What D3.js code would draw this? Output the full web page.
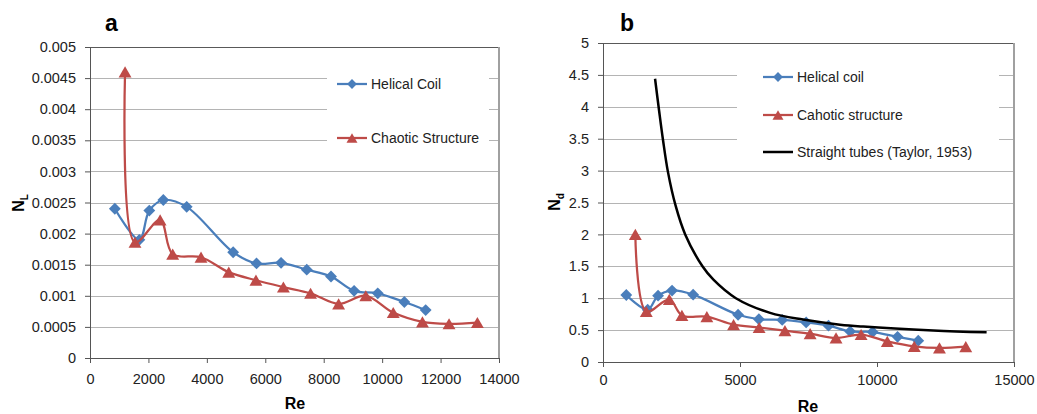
<!DOCTYPE html>
<html>
<head>
<meta charset="utf-8">
<script src="https://cdn.jsdelivr.net/npm/d3@7"></script>
<style>
  body { margin: 0; background: #fff; }
  svg { display: block; font-family: "Liberation Sans", Arial, sans-serif; }
  .tick text { font-size: 14.5px; fill: #222; }
</style>
</head>
<body>
<svg id="chart" width="1037" height="414"></svg>
<script>
// panel a : N_L vs Re
var aReHelical = [850, 1690, 2030, 2510, 3310, 4900, 5700, 6540, 7420, 8250, 9040, 9850, 10760, 11490];
var aNlHelical = [0.0024, 0.0019, 0.00237, 0.00254, 0.00243, 0.0017, 0.00152, 0.00153, 0.00142, 0.00131, 0.00108, 0.00104, 0.0009, 0.00077];
var aReChaotic = [1200, 1540, 2400, 2830, 3800, 4750, 5680, 6620, 7550, 8510, 9440, 10380, 11380, 12290, 13260];
var aNlChaotic = [0.0046, 0.00186, 0.00222, 0.00167, 0.00162, 0.00138, 0.00125, 0.00114, 0.00104, 0.00087, 0.001, 0.00073, 0.00058, 0.00055, 0.00057];
var aXTicks = [0, 2000, 4000, 6000, 8000, 10000, 12000, 14000];
var aYTicks = [0, 0.0005, 0.001, 0.0015, 0.002, 0.0025, 0.003, 0.0035, 0.004, 0.0045, 0.005];
var aYLabels = ["0", "0.0005", "0.001", "0.0015", "0.002", "0.0025", "0.003", "0.0035", "0.004", "0.0045", "0.005"];
var aLegend = ["Helical Coil", "Chaotic Structure"];

// panel b : N_d vs Re
var bReHelical = [850, 1630, 2010, 2520, 3290, 4930, 5690, 6540, 7415, 8230, 9020, 9840, 10750, 11506];
var bNdHelical = [1.05, 0.82, 1.04, 1.12, 1.055, 0.74, 0.67, 0.66, 0.62, 0.57, 0.48, 0.47, 0.395, 0.335];
var bReChaotic = [1180, 1580, 2420, 2880, 3790, 4765, 5698, 6640, 7560, 8505, 9420, 10376, 11360, 12280, 13240];
var bNdChaotic = [2.0, 0.79, 0.98, 0.73, 0.71, 0.585, 0.54, 0.49, 0.443, 0.376, 0.43, 0.323, 0.245, 0.22, 0.24];
var bReTaylor = [1900, 2050, 2190, 2370, 2650, 3000, 3630, 4030, 4850, 6100, 7300, 8650, 9500, 12050, 14000];
var bNdTaylor = [4.44, 3.93, 3.48, 2.98, 2.45, 2.0, 1.5, 1.29, 1.0, 0.77, 0.665, 0.585, 0.555, 0.495, 0.465];
var bXTicks = [0, 5000, 10000, 15000];
var bYTicks = [0, 0.5, 1, 1.5, 2, 2.5, 3, 3.5, 4, 4.5, 5];
var bYLabels = ["0", "0.5", "1", "1.5", "2", "2.5", "3", "3.5", "4", "4.5", "5"];
var bLegend = ["Helical coil", "Cahotic structure", "Straight tubes (Taylor, 1953)"];

var blue = "#4a7ebb", red = "#be4b48", black = "#000";
var svg = d3.select("#chart");

var diamond = d3.symbol().type(d3.symbolSquare).size(70);
var diamondSmall = d3.symbol().type(d3.symbolSquare).size(48);
var tri = d3.symbol().type(d3.symbolTriangle).size(72);
var triSmall = d3.symbol().type(d3.symbolTriangle).size(52);

var zip = function(xs, ys) { return xs.map(function(x, i) { return [x, ys[i]]; }); };

var drawPanel = function(p) {
    var x = d3.scaleLinear().domain(p.xDomain).range(p.xRange);
    var y = d3.scaleLinear().domain(p.yDomain).range(p.yRange);
    var g = svg.append("g");

    // gridlines
    g.selectAll(".grid")
        .data(p.yTicks.filter(function(d) { return d > 0 && d < p.yDomain[1]; }))
        .enter().append("line")
        .attr("x1", p.xRange[0]).attr("x2", p.xRange[1])
        .attr("y1", function(d) { return Math.round(y(d)) + 0.5; })
        .attr("y2", function(d) { return Math.round(y(d)) + 0.5; })
        .attr("stroke", "#b4b4b4").attr("stroke-width", 1);

    // legend box hides the gridlines behind it
    g.append("rect")
        .attr("x", p.legendBox[0]).attr("y", p.legendBox[1])
        .attr("width", p.legendBox[2]).attr("height", p.legendBox[3])
        .attr("fill", "#fff");

    // top + right border of plot area
    g.append("line")
        .attr("x1", p.xRange[0]).attr("x2", p.xRange[1])
        .attr("y1", Math.round(p.yRange[1]) + 0.5).attr("y2", Math.round(p.yRange[1]) + 0.5)
        .attr("stroke", "#595959");
    g.append("line")
        .attr("x1", p.xRange[1]).attr("x2", p.xRange[1])
        .attr("y1", p.yRange[1]).attr("y2", p.yRange[0])
        .attr("stroke", "#a0a0a0").attr("stroke-width", 2);

    var line = d3.line()
        .x(function(d) { return x(d[0]); })
        .y(function(d) { return y(d[1]); })
        .curve(d3.curveCatmullRom.alpha(0.5));

    p.series.forEach(function(s) {
        var pts = zip(s.xs, s.ys);
        g.append("path")
            .attr("d", line(pts))
            .attr("fill", "none")
            .attr("stroke", s.color)
            .attr("stroke-width", s.marker ? 2.25 : 2.5);
        if (s.marker === "diamond") {
            g.selectAll(null).data(pts).enter().append("path")
                .attr("d", diamond)
                .attr("transform", function(d) { return "translate(" + x(d[0]) + "," + y(d[1]) + ") rotate(45)"; })
                .attr("fill", s.color);
        } else if (s.marker === "triangle") {
            g.selectAll(null).data(pts).enter().append("path")
                .attr("d", tri)
                .attr("transform", function(d) { return "translate(" + x(d[0]) + "," + (y(d[1]) + 1.8) + ")"; })
                .attr("fill", s.color);
        }
    });

    // axes
    var yAxis = g.append("g")
        .attr("transform", "translate(" + p.xRange[0] + ",0)")
        .call(d3.axisLeft(y).tickValues(p.yTicks).tickSize(5).tickSizeOuter(0).tickPadding(9)
            .tickFormat(function(d, i) { return p.yLabels[i]; }));
    var xAxis = g.append("g")
        .attr("transform", "translate(0," + p.yRange[0] + ")")
        .call(d3.axisBottom(x).tickValues(p.xTicks).tickSize(5).tickSizeOuter(0).tickPadding(p.xPad)
            .tickFormat(function(d) { return d; }));
    [xAxis, yAxis].forEach(function(a) {
        a.select(".domain").attr("stroke", "#555");
        a.selectAll(".tick line").attr("stroke", "#555");
        a.selectAll(".tick text").style("font-family", "Liberation Sans, Arial, sans-serif");
    });

    // legend
    p.series.forEach(function(s, i) {
        var ly = p.legendRows[i];
        g.append("line")
            .attr("x1", p.legendX).attr("x2", p.legendX + 30)
            .attr("y1", ly).attr("y2", ly)
            .attr("stroke", s.color).attr("stroke-width", s.marker ? 2.25 : 2.5);
        if (s.marker === "diamond") {
            g.append("path").attr("d", diamondSmall)
                .attr("transform", "translate(" + (p.legendX + 15) + "," + ly + ") rotate(45)")
                .attr("fill", s.color);
        } else if (s.marker === "triangle") {
            g.append("path").attr("d", triSmall)
                .attr("transform", "translate(" + (p.legendX + 15) + "," + (ly + 1.5) + ")")
                .attr("fill", s.color);
        }
        g.append("text")
            .attr("x", p.legendX + 34).attr("y", ly + 5)
            .attr("font-size", 14).attr("fill", "#222")
            .text(p.legend[i]);
    });

    // titles
    g.append("text")
        .attr("x", p.letterX).attr("y", 31)
        .attr("font-size", 23).attr("font-weight", "bold")
        .text(p.letter);
    g.append("text")
        .attr("x", p.reX).attr("y", p.reY)
        .attr("text-anchor", "middle")
        .attr("font-size", 16).attr("font-weight", "bold")
        .text("Re");
    var yt = g.append("text")
        .attr("transform", "translate(" + p.yTitle[0] + "," + p.yTitle[1] + ") rotate(-90)")
        .attr("text-anchor", "middle")
        .attr("font-size", 16).attr("font-weight", "bold");
    yt.append("tspan").text("N");
    yt.append("tspan").attr("dy", 4).attr("font-size", 10).text(p.ySub);
};

drawPanel({
    xDomain: [0, 14000], xRange: [90, 499],
    yDomain: [0, 0.005], yRange: [358, 47],
    xTicks: aXTicks, yTicks: aYTicks, yLabels: aYLabels, xPad: 11,
    series: [
        { xs: aReHelical, ys: aNlHelical, color: blue, marker: "diamond" },
        { xs: aReChaotic, ys: aNlChaotic, color: red, marker: "triangle" }
    ],
    legend: aLegend, legendX: 337, legendRows: [84, 138],
    legendBox: [327, 62, 162, 92],
    letter: "a", letterX: 105,
    reX: 295, reY: 409,
    yTitle: [24, 203], ySub: "L"
});

drawPanel({
    xDomain: [0, 15000], xRange: [603, 1014],
    yDomain: [0, 5], yRange: [362, 43],
    xTicks: bXTicks, yTicks: bYTicks, yLabels: bYLabels, xPad: 8,
    series: [
        { xs: bReHelical, ys: bNdHelical, color: blue, marker: "diamond" },
        { xs: bReChaotic, ys: bNdChaotic, color: red, marker: "triangle" },
        { xs: bReTaylor, ys: bNdTaylor, color: black, marker: null }
    ],
    legend: bLegend, legendX: 763, legendRows: [77, 115, 152],
    legendBox: [737, 60, 262, 104],
    letter: "b", letterX: 620,
    reX: 808, reY: 412,
    yTitle: [560, 202], ySub: "d"
});
</script>
</body>
</html>
